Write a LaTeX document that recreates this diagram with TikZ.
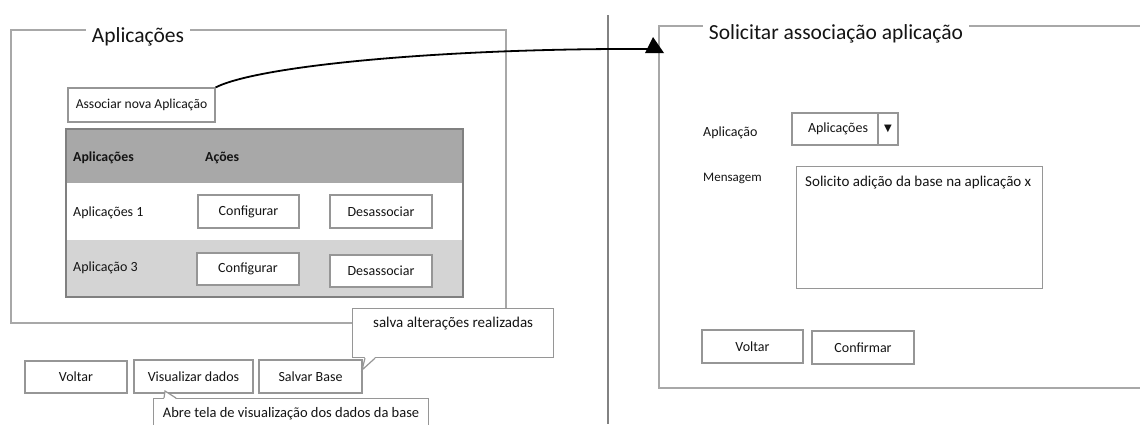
\documentclass[tikz,border=0pt]{standalone}
\usepackage{fontspec}
\setmainfont{Carlito}
\newfontfamily\symfont{DejaVu Sans}
\usetikzlibrary{calc}
\definecolor{edge}{RGB}{150,150,150}
\definecolor{frameedge}{RGB}{168,168,168}
\definecolor{headfill}{RGB}{168,168,168}
\definecolor{rowfill}{RGB}{212,212,212}
\definecolor{tableedge}{RGB}{128,128,128}
\definecolor{sepline}{RGB}{130,130,130}
\definecolor{ink}{RGB}{20,20,20}
\begin{document}
\begin{tikzpicture}[x=1pt,y=-1pt,
  txt/.style={inner sep=0pt, text=ink, font=\fontsize{14}{16}\selectfont},
  btn/.style={draw=edge, line width=1.2pt, fill=white, inner sep=0pt,
    text=ink, font=\fontsize{14}{16}\selectfont},
  panel/.style={draw=frameedge, line width=1.2pt},
  paneltitle/.style={fill=white, inner xsep=6pt, inner ysep=2pt, text=ink,
    font=\fontsize{21.5}{24}\selectfont},
  note/.style={btn, inner xsep=4pt, inner ysep=5pt, text height=14pt},
  tail/.style={draw=edge, line width=1.2pt},
]
\useasboundingbox (0,0) rectangle (1140,424);
\clip (0,0) rectangle (1140,424);

% ---------- left screen: Aplicações ----------
\draw[panel] (11,30) rectangle (506,323);
\node[paneltitle] (ltitle) at (138,37) {Aplicações};

\node[btn, minimum width=147pt, minimum height=34pt, font=\fontsize{13.6}{16}\selectfont]
  (assoc) at (141.5,105) {Associar nova Aplicação};

% table
\fill[headfill] (66,129) rectangle (463,183);
\fill[rowfill] (66,240) rectangle (463,297);
\draw[draw=tableedge, line width=2pt] (66,129) rectangle (463,297);
\node[txt, anchor=west, font=\fontsize{13.8}{16}\selectfont\bfseries] (hApp) at (73,158) {Aplicações};
\node[txt, anchor=west, font=\fontsize{13.8}{16}\selectfont\bfseries] (hAcoes) at (205,158) {Ações};
\node[txt, anchor=west] (row1) at (73,213) {Aplicações 1};
\node[txt, anchor=west] (row2) at (73,268) {Aplicação 3};
\node[btn, minimum width=101pt, minimum height=33pt] (conf1) at (248.5,211.5) {Configurar};
\node[btn, minimum width=102pt, minimum height=33pt] (desa1) at (381,211.5) {Desassociar};
\node[btn, minimum width=102pt, minimum height=32pt] (conf2) at (248,269) {Configurar};
\node[btn, minimum width=102pt, minimum height=32pt] (desa2) at (381,271) {Desassociar};

% bottom buttons
\node[btn, minimum width=102pt, minimum height=32pt] (voltarL) at (76,377) {Voltar};
\node[btn, minimum width=119pt, minimum height=33pt] (visual) at (193.5,376.5) {Visualizar dados};
\node[btn, minimum width=103pt, minimum height=33pt] (salvar) at (310.5,376.5) {Salvar Base};

% callout: salva alterações
\node[note, anchor=north west, minimum width=201pt, text depth=25pt,
  font=\fontsize{15}{17}\selectfont] (salva) at (352,308) {salva alterações realizadas};
\fill[white] ($(salva.south west)+(13,-1)$) -- (362,370) -- ($(salva.south west)+(23,-1)$) -- cycle;
\draw[tail] ($(salva.south west)+(13,0)$) -- (362,370) -- ($(salva.south west)+(23,0)$);

% callout: abre tela
\node[note, anchor=north west, minimum width=275pt, text depth=12pt,
  font=\fontsize{14.5}{17}\selectfont] (abre) at (153,398) {Abre tela de visualização dos dados da base};
\fill[white] ($(abre.north west)+(11,1)$) -- (165,391) -- ($(abre.north west)+(23,1)$) -- cycle;
\draw[tail] ($(abre.north west)+(11,0)$) -- (165,391) -- ($(abre.north west)+(23,0)$);

% ---------- separator ----------
\draw[draw=sepline, line width=2pt] (608,15) -- (608,424);

% ---------- right screen: Solicitar associação ----------
\draw[panel] (659,26) rectangle (1150,388);
\node[paneltitle] (rtitle) at (836,34) {Solicitar associação aplicação};

\node[txt, anchor=west] (lblApp) at (703,133) {Aplicação};
\node[btn, minimum width=106pt, minimum height=32pt] (combo) at (845,129) {};
\draw[draw=edge, line width=1.2pt] (878,113) -- (878,145);
\node[txt] (comboTxt) at (838,129) {Aplicações};
\node[txt, font=\symfont\fontsize{10}{12}\selectfont] (comboArrow) at (888,129) {▼};

\node[txt, anchor=west, font=\fontsize{13}{15}\selectfont] (lblMsg) at (703,178) {Mensagem};
\node[btn, anchor=north west, minimum width=246pt, minimum height=122pt] (msg) at (796,166) {};
\node[txt, anchor=west, font=\fontsize{15}{17}\selectfont] (msgTxt) at (805,183) {Solicito adição da base na aplicação x};

\node[btn, minimum width=101pt, minimum height=33pt] (voltarR) at (752.5,346.5) {Voltar};
\node[btn, minimum width=102pt, minimum height=33pt] (confirm) at (863,347.5) {Confirmar};

% ---------- navigation arrow ----------
\coordinate (tip) at (648,49);
\draw[line width=1.8pt, black] (assoc.north east) .. controls (260,65) and (450,48) .. (tip);
\fill[black] (645,53) -- (653,37) -- (664,53) -- cycle;
\end{tikzpicture}
\end{document}
